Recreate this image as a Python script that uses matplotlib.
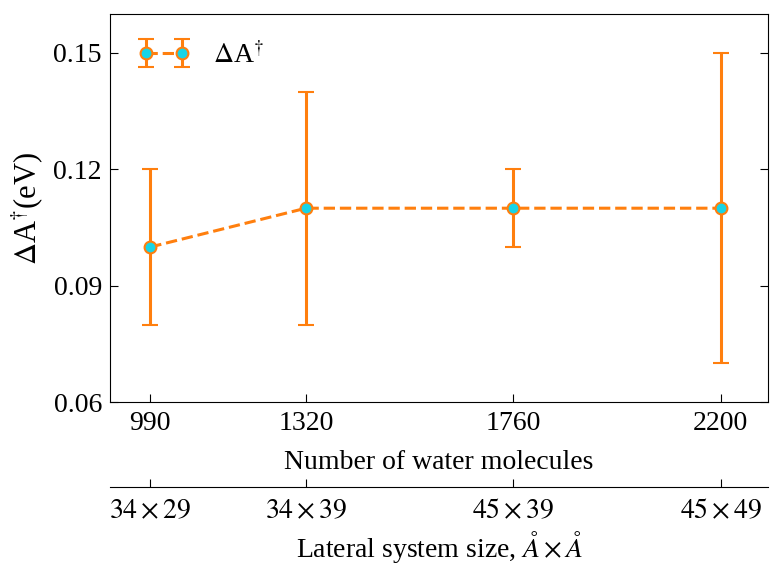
import numpy as np
import matplotlib.pyplot as plt

plt.rcParams['font.family'] = ['Liberation Serif', 'DejaVu Serif']
plt.rcParams['mathtext.fontset'] = 'stix'

n_water = [990, 1320, 1760, 2200]
lateral = [r"$34\times29$", r"$34\times39$", r"$45\times39$", r"$45\times49$"]
barrier = [0.10, 0.11, 0.11, 0.11]
err_low = [0.02, 0.03, 0.01, 0.04]
err_high = [0.02, 0.03, 0.01, 0.04]

orange = "#ff7f0e"
cyan = "#17d4e6"

fig = plt.figure(figsize=(7.71, 5.65), dpi=100)
ax = fig.add_axes([0.143, 0.288, 0.853, 0.687])

ax.errorbar(
    n_water, barrier, yerr=[err_low, err_high],
    fmt="o--", color=orange, ecolor=orange, lw=2.2, elinewidth=2.2,
    capsize=6, capthick=2.2, ms=8.5, mfc=cyan, mec=orange, mew=1.5,
    label=r"$\Delta$A$^{\dagger}$"
)

ax.set_xlim(905, 2300)
ax.set_ylim(0.06, 0.16)
ax.set_xticks(n_water)
ax.set_yticks([0.06, 0.09, 0.12, 0.15])
ax.tick_params(direction="in", labelsize=20, top=True, right=True,
               length=6, pad=6)
ax.set_xlabel("Number of water molecules", fontsize=20, labelpad=10)
ax.set_ylabel(r"$\Delta$A$^{\dagger}$(eV)", fontsize=22, labelpad=6)
ax.legend(loc="upper left", numpoints=2, frameon=False, fontsize=20,
          handlelength=1.9, borderaxespad=0.6)

# secondary x axis with the lateral box size
ax2 = ax.twiny()
ax2.set_xlim(ax.get_xlim())
ax2.set_xticks(n_water)
ax2.set_xticklabels(lateral)
ax2.xaxis.set_ticks_position("bottom")
ax2.xaxis.set_label_position("bottom")
ax2.spines["bottom"].set_position(("outward", 61))
for s in ["top", "left", "right"]:
    ax2.spines[s].set_visible(False)
ax2.tick_params(direction="in", labelsize=20, length=6, pad=9)
ax2.set_xlabel(r"Lateral system size, $Å\times Å$", fontsize=20,
               labelpad=3)

fig.savefig("out.png", dpi=100)
